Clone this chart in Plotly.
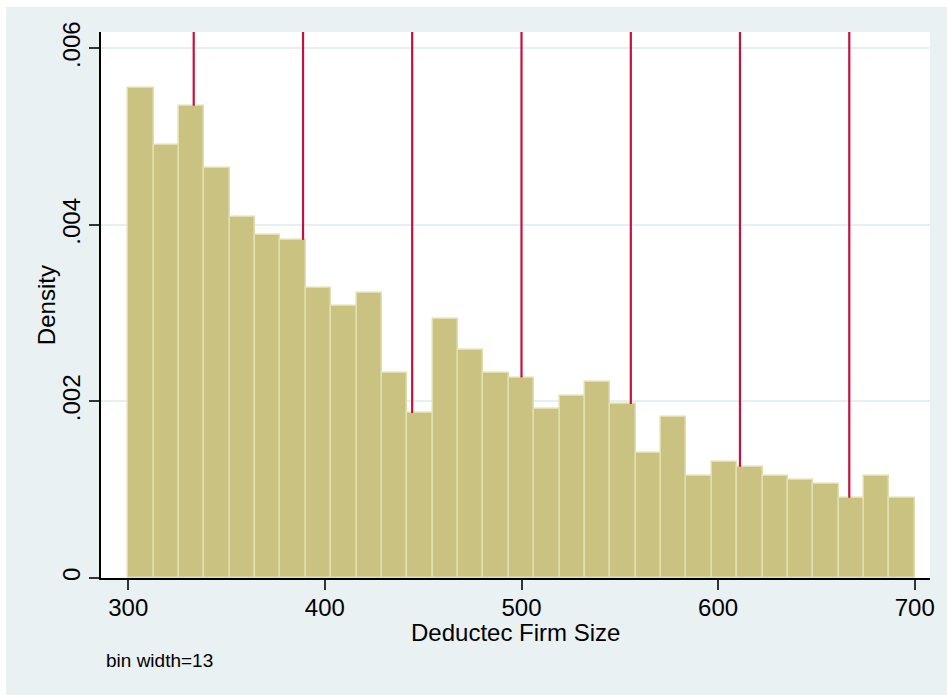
import numpy as np
import plotly.graph_objects as go

# Histogram of firm size: 31 equal bins between 300 and 700
bin_start = 300
bin_end = 700
n_bins = 31
density = [
    0.00555, 0.00490, 0.00535, 0.00465, 0.00409, 0.00389, 0.00383,
    0.00328, 0.00308, 0.00323, 0.00232, 0.00187, 0.00293, 0.00258,
    0.00232, 0.00227, 0.00191, 0.00206, 0.00222, 0.00197, 0.00142,
    0.00182, 0.00115, 0.00131, 0.00126, 0.00115, 0.00111, 0.00106,
    0.00091, 0.00115, 0.00091,
]

# Cutoff positions marked with vertical lines
cutoffs = [333.3, 388.9, 444.4, 500.0, 555.6, 611.1, 666.7]

# Axis ticks
x_ticks = [300, 400, 500, 600, 700]
y_ticks = [0, 0.002, 0.004, 0.006]
y_tick_text = ["0", ".002", ".004", ".006"]

x_title = "Deductec Firm Size"
y_title = "Density"
note = "bin width=13"

BAR_FILL = "#C9C280"
BAR_EDGE = "#E2DEB0"
CUT_RED = "#C8103E"
OUTER_BG = "#E9F1F3"
GRID = "#E6EFF2"
FONT = "Liberation Sans, Arial, sans-serif"

width = (bin_end - bin_start) / n_bins
centers = [bin_start + width * (i + 0.5) for i in range(n_bins)]

x_range = [286.15, 707.75]
y_top = 0.006185

fig = go.Figure()
fig.add_trace(go.Bar(
    x=centers,
    y=density,
    width=[width] * n_bins,
    marker=dict(color=BAR_FILL, line=dict(color=BAR_EDGE, width=1.5)),
    hoverinfo="x+y",
    showlegend=False,
))

# Each cutoff line runs from the top of its bar up to the top of the plot
line_x, line_y = [], []
for c in cutoffs:
    idx = min(int((c - bin_start) // width), n_bins - 1)
    line_x += [c, c, None]
    line_y += [density[idx], y_top * 1.01, None]
fig.add_trace(go.Scatter(
    x=line_x, y=line_y, mode="lines",
    line=dict(color=CUT_RED, width=2.2),
    hoverinfo="skip", showlegend=False,
))

L, R, T, B = 101, 15, 32, 117
W, H = 947, 695
pw, ph = W - L - R, H - T - B


def px_x(px):
    """Horizontal pixel position -> paper coordinate."""
    return (px - L) / pw


def px_y(py):
    """Vertical pixel position (from top) -> paper coordinate."""
    return (T + ph - py) / ph


fig.update_layout(
    width=W, height=H, autosize=False,
    margin=dict(l=L, r=R, t=T, b=B, pad=0),
    paper_bgcolor="white",
    plot_bgcolor="white",
    bargap=0,
    font=dict(family=FONT, color="black", size=24),
    shapes=[
        # outer graph region
        dict(type="rect", xref="paper", yref="paper", layer="below",
             x0=px_x(6), x1=px_x(W + 5), y0=px_y(H + 5), y1=px_y(7),
             fillcolor=OUTER_BG, line=dict(width=0)),
        # plot region
        dict(type="rect", xref="paper", yref="paper", layer="below",
             x0=0, x1=1, y0=0, y1=1,
             fillcolor="white", line=dict(width=0)),
    ],
    xaxis=dict(
        range=x_range, tickvals=x_ticks, showgrid=False, zeroline=False,
        showline=True, linecolor="black", linewidth=1.5,
        ticks="outside", ticklen=10, tickwidth=1.5, tickcolor="#333333",
        tickfont=dict(size=24), ticklabelstandoff=-3,
    ),
    yaxis=dict(
        range=[0, y_top], tickvals=y_ticks, ticktext=y_tick_text,
        tickangle=-90, showgrid=True, gridcolor=GRID, gridwidth=1.5,
        zeroline=False, showline=True, linecolor="black", linewidth=1.5,
        ticks="outside", ticklen=10, tickwidth=1.5, tickcolor="#333333",
        tickfont=dict(size=24), ticklabelstandoff=0,
    ),
    annotations=[
        dict(text=x_title, xref="paper", yref="paper",
             x=0.5, y=px_y(632), xanchor="center", yanchor="middle",
             showarrow=False, font=dict(size=24, color="black")),
        dict(text=y_title, xref="paper", yref="paper",
             x=px_x(46), y=0.5, xanchor="center", yanchor="middle",
             textangle=-90, showarrow=False,
             font=dict(size=24, color="black")),
        dict(text=note, xref="paper", yref="paper",
             x=px_x(104), y=px_y(660),
             xanchor="left", yanchor="middle", showarrow=False,
             font=dict(size=19, color="black")),
    ],
)

fig.write_html("out.html")
